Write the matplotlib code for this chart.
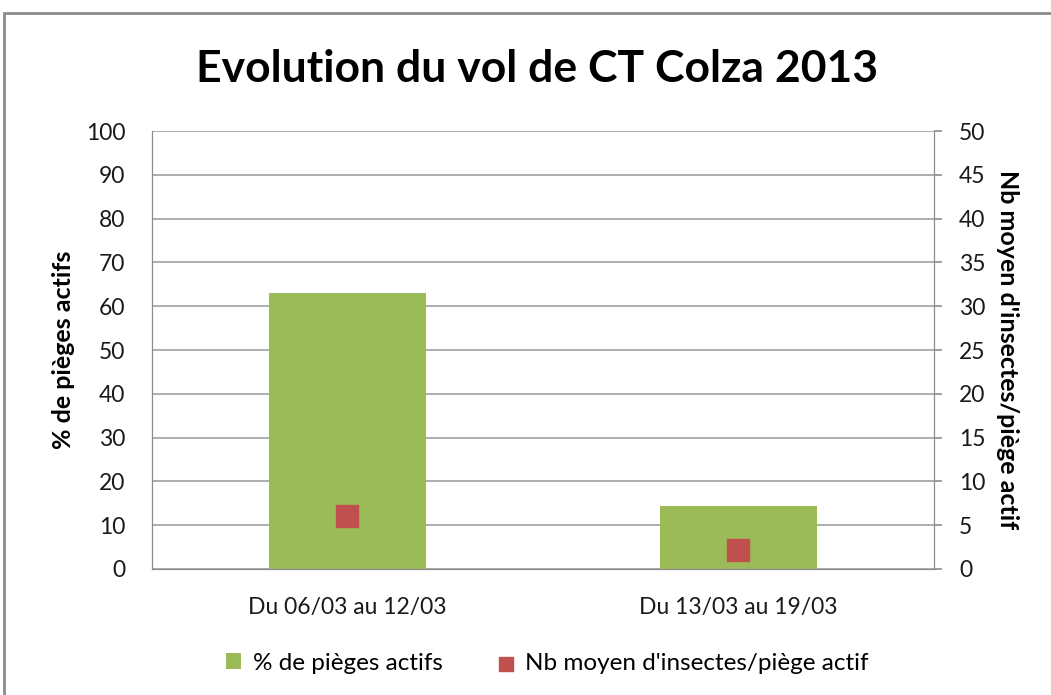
import numpy as np
import matplotlib.pyplot as plt
from matplotlib.patches import Rectangle

categories = ["Du 06/03 au 12/03", "Du 13/03 au 19/03"]
pct_pieges = [63, 14.3]
nb_insectes = [6, 2.2]

green = "#9bbb59"
red = "#c0504d"

plt.rcParams['font.family'] = ['Lato', 'DejaVu Sans']

fig = plt.figure(figsize=(10.51, 6.95), dpi=100)
ax = fig.add_axes([0.1446, 0.1813, 0.7440, 0.6302])
ax2 = ax.twinx()

x = np.arange(len(categories))
ax.bar(x, pct_pieges, width=0.4, color=green, zorder=2, label="% de pièges actifs")
ax2.scatter(x, nb_insectes, marker="s", s=250, color=red, zorder=3,
            label="Nb moyen d'insectes/piège actif")

ax.set_xlim(-0.5, 1.5)
ax.set_ylim(0, 100)
ax.set_yticks(np.arange(0, 101, 10))
ax2.set_ylim(0, 50)
ax2.set_yticks(np.arange(0, 51, 5))
ax.set_xticks(x)
ax.set_xticklabels(categories)
ax.grid(axis="y", color="#a0a0a0", linewidth=1.2, zorder=0)
ax.set_axisbelow(True)

for a in (ax, ax2):
    a.spines["top"].set_visible(False)
    for s in ("left", "right", "bottom"):
        a.spines[s].set_color("#8c8c8c")
    a.tick_params(colors="#8c8c8c", labelcolor="#1a1a1a", labelsize=16.5)
ax.tick_params(axis="y", length=0, pad=19)
ax2.tick_params(axis="y", length=6, width=1.2, pad=12)
ax.tick_params(axis="x", length=0, pad=20)

ax.set_ylabel("% de pièges actifs", fontsize=18, fontweight="bold", labelpad=8)
ax2.set_ylabel("Nb moyen d'insectes/piège actif", fontsize=18, fontweight="bold",
               rotation=-90, labelpad=24)

fig.text(0.511, 0.9, "Evolution du vol de CT Colza 2013", ha="center", va="center",
         fontsize=32, fontweight="bold")

h1, l1 = ax.get_legend_handles_labels()
h2, l2 = ax2.get_legend_handles_labels()
fig.legend(h1 + h2, l1 + l2, loc="center", bbox_to_anchor=(0.521, 0.046), ncol=2,
           frameon=False, fontsize=17.5, handlelength=0.6, handleheight=0.6,
           columnspacing=2.3, handletextpad=0.5, markerscale=0.65)

fig.patches.append(Rectangle((4 / 1051, -0.1), 1.2, 0.1 + (695 - 13) / 695,
                             transform=fig.transFigure, fill=False,
                             edgecolor="#8c8c8c", linewidth=2))

fig.savefig("out.png", dpi=100)
